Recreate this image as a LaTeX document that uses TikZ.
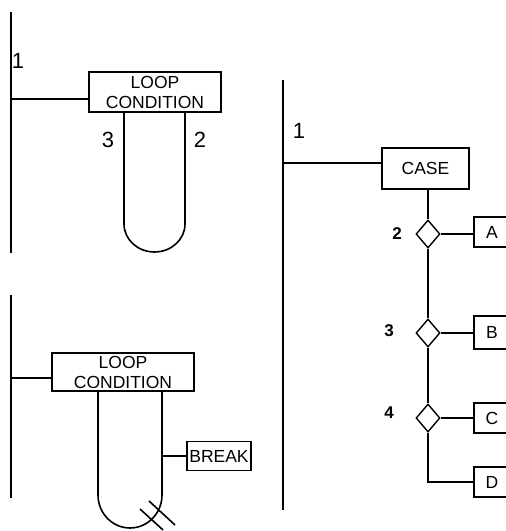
\documentclass[tikz,border=0pt]{standalone}
\usepackage{fontspec}
\setmainfont{Liberation Sans}
\usetikzlibrary{positioning,shapes.geometric}
\tikzset{
    wire/.style={line width=1.6pt, black},
    block/.style={draw, line width=1.4pt, rectangle, inner sep=1pt, align=center,
                  font=\fontsize{17.5}{20}\selectfont},
    choice/.style={draw, line width=1.4pt, diamond, inner sep=0pt,
                   minimum width=24pt, minimum height=28pt},
    tag/.style={font=\fontsize{22}{22}\selectfont, inner sep=0pt},
    btag/.style={font=\bfseries\fontsize{17}{17}\selectfont, inner sep=0pt}
}

\begin{document}
\begin{tikzpicture}[x=1pt, y=1pt]
  \useasboundingbox (0,0) rectangle (506,531);
  \clip (0,0) rectangle (506,531);

  % Loop with condition (top left)
  \coordinate (ta) at (11,519);
  \coordinate (tb) at (11,278);
  \draw[wire] (ta) -- (tb);
  \node[tag] (t1) at (18,470) {1};
  \node[block, minimum width=132pt, minimum height=40pt] (tloop) at (155,439) {LOOP\\CONDITION};
  \coordinate (tj) at (11,432);
  \draw[wire] (tj) -- (tj -| tloop.west);
  \coordinate (tl) at (124,307);
  \coordinate (tr) at (185,307);
  \draw[wire] (tl |- tloop.south) -- (tl)
    arc[start angle=180, end angle=360, x radius=30.5, y radius=28] -- (tr |- tloop.south);
  \node[tag] (t3) at (108,391) {3};
  \node[tag] (t2) at (200,391) {2};

  % Loop with break (bottom left)
  \coordinate (ba) at (11,236);
  \coordinate (bb) at (11,33);
  \draw[wire] (ba) -- (bb);
  \node[block, minimum width=142pt, minimum height=38pt] (bloop) at (123,159) {LOOP\\CONDITION};
  \coordinate (bj) at (11,153);
  \draw[wire] (bj) -- (bj -| bloop.west);
  \coordinate (bl) at (98,36);
  \coordinate (br) at (162,36);
  \draw[wire] (bl |- bloop.south) -- (bl)
    arc[start angle=180, end angle=360, x radius=32, y radius=33] -- (br |- bloop.south);
  \node[block, minimum width=64pt, minimum height=29pt] (brk) at (219,75) {BREAK};
  \coordinate (bk) at (162,75);
  \draw[wire] (bk) -- (brk.west);
  \coordinate (h1a) at (140,22);
  \coordinate (h1b) at (163,1);
  \coordinate (h2a) at (149,30);
  \coordinate (h2b) at (175,6);
  \draw[wire] (h1a) -- (h1b);
  \draw[wire] (h2a) -- (h2b);

  % Case selection (right)
  \coordinate (ra) at (283,451);
  \coordinate (rb) at (283,21);
  \draw[wire] (ra) -- (rb);
  \node[tag] (r1) at (299,400) {1};
  \node[block, minimum width=87pt, minimum height=41pt] (case) at (425.5,362.5) {CASE};
  \coordinate (rj) at (283,368);
  \draw[wire] (rj) -- (rj -| case.west);

  \node[choice] (d2) at (428,297) {};
  \node[choice] (d3) at (428,198) {};
  \node[choice] (d4) at (428,113) {};
  \node[btag] (l2) at (397,297) {2};
  \node[btag] (l3) at (389,200) {3};
  \node[btag] (l4) at (389,118) {4};

  \node[block, minimum width=36pt, minimum height=30pt] (ca) at (492,299) {A};
  \node[block, minimum width=36pt, minimum height=33pt] (cb) at (492,198.5) {B};
  \node[block, minimum width=36pt, minimum height=30pt] (cc) at (492,113) {C};
  \node[block, minimum width=36pt, minimum height=30pt] (cd) at (492,49) {D};

  \draw[wire] (case.south -| d2) -- (d2.north);
  \draw[wire] (d2.south) -- (d3.north);
  \draw[wire] (d3.south) -- (d4.north);
  \draw[wire] (d4.south) |- (cd.west);
  \draw[wire] (d2.east) -- (d2.east -| ca.west);
  \draw[wire] (d3.east) -- (d3.east -| cb.west);
  \draw[wire] (d4.east) -- (d4.east -| cc.west);
\end{tikzpicture}
\end{document}
